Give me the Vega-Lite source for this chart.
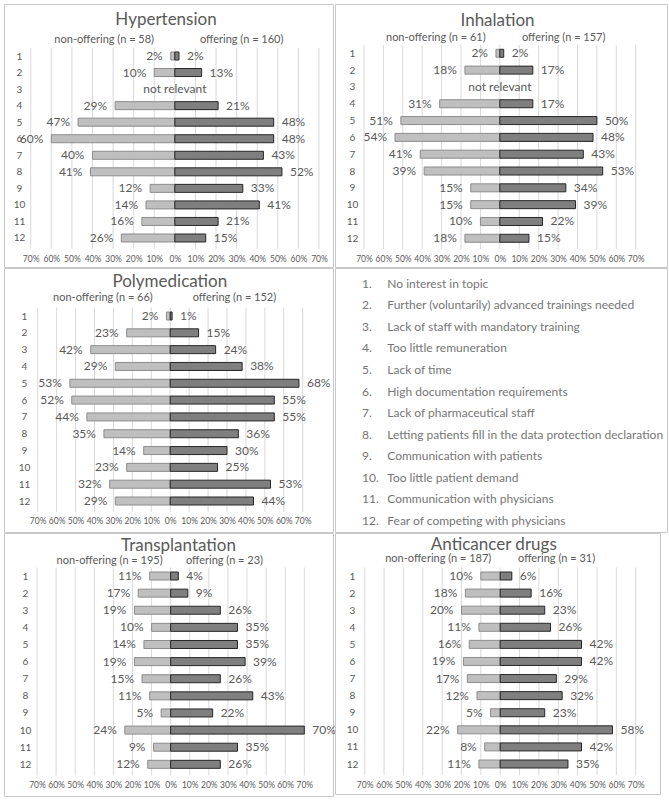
{
  "$schema": "https://vega.github.io/schema/vega-lite/v6.json",
  "padding": {"left": 3, "top": 3, "right": 2, "bottom": 2},
  "background": "white",
  "config": {
    "font": "Lato",
    "view": {"stroke": "#c8c8c8"},
    "text": {"font": "Lato", "baseline": "middle", "color": "#595959", "fontSize": 12},
    "axis": {"labelFont": "Lato", "labelOverlap": false, "labelFlush": false, "labelBound": false}
  },
  "datasets": {
    "grid": [{"share": -70}, {"share": -60}, {"share": -50}, {"share": -40}, {"share": -30}, {"share": -20}, {"share": -10}, {"share": 0}, {"share": 10}, {"share": 20}, {"share": 30}, {"share": 40}, {"share": 50}, {"share": 60}, {"share": 70}],
    "heads": [
      {"panel": "Hypertension", "part": "title", "label": "Hypertension"},
      {"panel": "Hypertension", "part": "non-offering", "label": "non-offering (n = 58)"},
      {"panel": "Hypertension", "part": "offering", "label": "offering (n = 160)"},
      {"panel": "Inhalation", "part": "title", "label": "Inhalation"},
      {"panel": "Inhalation", "part": "non-offering", "label": "non-offering (n = 61)"},
      {"panel": "Inhalation", "part": "offering", "label": "offering (n = 157)"},
      {"panel": "Polymedication", "part": "title", "label": "Polymedication"},
      {"panel": "Polymedication", "part": "non-offering", "label": "non-offering (n = 66)"},
      {"panel": "Polymedication", "part": "offering", "label": "offering (n = 152)"},
      {"panel": "Transplantation", "part": "title", "label": "Transplantation"},
      {"panel": "Transplantation", "part": "non-offering", "label": "non-offering (n = 195)"},
      {"panel": "Transplantation", "part": "offering", "label": "offering (n = 23)"},
      {"panel": "Anticancer drugs", "part": "title", "label": "Anticancer drugs"},
      {"panel": "Anticancer drugs", "part": "non-offering", "label": "non-offering (n = 187)"},
      {"panel": "Anticancer drugs", "part": "offering", "label": "offering (n = 31)"}
    ],
    "notes": [
      {"panel": "Hypertension", "item": 3, "note": "not relevant"},
      {"panel": "Inhalation", "item": 3, "note": "not relevant"}
    ],
    "reasons": [
      {"item": 1, "label": "No interest in topic"},
      {"item": 2, "label": "Further (voluntarily) advanced trainings needed"},
      {"item": 3, "label": "Lack of staff with mandatory training"},
      {"item": 4, "label": "Too little remuneration"},
      {"item": 5, "label": "Lack of time"},
      {"item": 6, "label": "High documentation requirements"},
      {"item": 7, "label": "Lack of pharmaceutical staff"},
      {"item": 8, "label": "Letting patients fill in the data protection declaration"},
      {"item": 9, "label": "Communication with patients"},
      {"item": 10, "label": "Too little patient demand"},
      {"item": 11, "label": "Communication with physicians"},
      {"item": 12, "label": "Fear of competing with physicians"}
    ],
    "bars": [
      {"panel": "Hypertension", "item": 1, "group": "non-offering", "share": -2},
      {"panel": "Hypertension", "item": 2, "group": "non-offering", "share": -10},
      {"panel": "Hypertension", "item": 4, "group": "non-offering", "share": -29},
      {"panel": "Hypertension", "item": 5, "group": "non-offering", "share": -47},
      {"panel": "Hypertension", "item": 6, "group": "non-offering", "share": -60},
      {"panel": "Hypertension", "item": 7, "group": "non-offering", "share": -40},
      {"panel": "Hypertension", "item": 8, "group": "non-offering", "share": -41},
      {"panel": "Hypertension", "item": 9, "group": "non-offering", "share": -12},
      {"panel": "Hypertension", "item": 10, "group": "non-offering", "share": -14},
      {"panel": "Hypertension", "item": 11, "group": "non-offering", "share": -16},
      {"panel": "Hypertension", "item": 12, "group": "non-offering", "share": -26},
      {"panel": "Hypertension", "item": 1, "group": "offering", "share": 2},
      {"panel": "Hypertension", "item": 2, "group": "offering", "share": 13},
      {"panel": "Hypertension", "item": 4, "group": "offering", "share": 21},
      {"panel": "Hypertension", "item": 5, "group": "offering", "share": 48},
      {"panel": "Hypertension", "item": 6, "group": "offering", "share": 48},
      {"panel": "Hypertension", "item": 7, "group": "offering", "share": 43},
      {"panel": "Hypertension", "item": 8, "group": "offering", "share": 52},
      {"panel": "Hypertension", "item": 9, "group": "offering", "share": 33},
      {"panel": "Hypertension", "item": 10, "group": "offering", "share": 41},
      {"panel": "Hypertension", "item": 11, "group": "offering", "share": 21},
      {"panel": "Hypertension", "item": 12, "group": "offering", "share": 15},
      {"panel": "Inhalation", "item": 1, "group": "non-offering", "share": -2},
      {"panel": "Inhalation", "item": 2, "group": "non-offering", "share": -18},
      {"panel": "Inhalation", "item": 4, "group": "non-offering", "share": -31},
      {"panel": "Inhalation", "item": 5, "group": "non-offering", "share": -51},
      {"panel": "Inhalation", "item": 6, "group": "non-offering", "share": -54},
      {"panel": "Inhalation", "item": 7, "group": "non-offering", "share": -41},
      {"panel": "Inhalation", "item": 8, "group": "non-offering", "share": -39},
      {"panel": "Inhalation", "item": 9, "group": "non-offering", "share": -15},
      {"panel": "Inhalation", "item": 10, "group": "non-offering", "share": -15},
      {"panel": "Inhalation", "item": 11, "group": "non-offering", "share": -10},
      {"panel": "Inhalation", "item": 12, "group": "non-offering", "share": -18},
      {"panel": "Inhalation", "item": 1, "group": "offering", "share": 2},
      {"panel": "Inhalation", "item": 2, "group": "offering", "share": 17},
      {"panel": "Inhalation", "item": 4, "group": "offering", "share": 17},
      {"panel": "Inhalation", "item": 5, "group": "offering", "share": 50},
      {"panel": "Inhalation", "item": 6, "group": "offering", "share": 48},
      {"panel": "Inhalation", "item": 7, "group": "offering", "share": 43},
      {"panel": "Inhalation", "item": 8, "group": "offering", "share": 53},
      {"panel": "Inhalation", "item": 9, "group": "offering", "share": 34},
      {"panel": "Inhalation", "item": 10, "group": "offering", "share": 39},
      {"panel": "Inhalation", "item": 11, "group": "offering", "share": 22},
      {"panel": "Inhalation", "item": 12, "group": "offering", "share": 15},
      {"panel": "Polymedication", "item": 1, "group": "non-offering", "share": -2},
      {"panel": "Polymedication", "item": 2, "group": "non-offering", "share": -23},
      {"panel": "Polymedication", "item": 3, "group": "non-offering", "share": -42},
      {"panel": "Polymedication", "item": 4, "group": "non-offering", "share": -29},
      {"panel": "Polymedication", "item": 5, "group": "non-offering", "share": -53},
      {"panel": "Polymedication", "item": 6, "group": "non-offering", "share": -52},
      {"panel": "Polymedication", "item": 7, "group": "non-offering", "share": -44},
      {"panel": "Polymedication", "item": 8, "group": "non-offering", "share": -35},
      {"panel": "Polymedication", "item": 9, "group": "non-offering", "share": -14},
      {"panel": "Polymedication", "item": 10, "group": "non-offering", "share": -23},
      {"panel": "Polymedication", "item": 11, "group": "non-offering", "share": -32},
      {"panel": "Polymedication", "item": 12, "group": "non-offering", "share": -29},
      {"panel": "Polymedication", "item": 1, "group": "offering", "share": 1},
      {"panel": "Polymedication", "item": 2, "group": "offering", "share": 15},
      {"panel": "Polymedication", "item": 3, "group": "offering", "share": 24},
      {"panel": "Polymedication", "item": 4, "group": "offering", "share": 38},
      {"panel": "Polymedication", "item": 5, "group": "offering", "share": 68},
      {"panel": "Polymedication", "item": 6, "group": "offering", "share": 55},
      {"panel": "Polymedication", "item": 7, "group": "offering", "share": 55},
      {"panel": "Polymedication", "item": 8, "group": "offering", "share": 36},
      {"panel": "Polymedication", "item": 9, "group": "offering", "share": 30},
      {"panel": "Polymedication", "item": 10, "group": "offering", "share": 25},
      {"panel": "Polymedication", "item": 11, "group": "offering", "share": 53},
      {"panel": "Polymedication", "item": 12, "group": "offering", "share": 44},
      {"panel": "Transplantation", "item": 1, "group": "non-offering", "share": -11},
      {"panel": "Transplantation", "item": 2, "group": "non-offering", "share": -17},
      {"panel": "Transplantation", "item": 3, "group": "non-offering", "share": -19},
      {"panel": "Transplantation", "item": 4, "group": "non-offering", "share": -10},
      {"panel": "Transplantation", "item": 5, "group": "non-offering", "share": -14},
      {"panel": "Transplantation", "item": 6, "group": "non-offering", "share": -19},
      {"panel": "Transplantation", "item": 7, "group": "non-offering", "share": -15},
      {"panel": "Transplantation", "item": 8, "group": "non-offering", "share": -11},
      {"panel": "Transplantation", "item": 9, "group": "non-offering", "share": -5},
      {"panel": "Transplantation", "item": 10, "group": "non-offering", "share": -24},
      {"panel": "Transplantation", "item": 11, "group": "non-offering", "share": -9},
      {"panel": "Transplantation", "item": 12, "group": "non-offering", "share": -12},
      {"panel": "Transplantation", "item": 1, "group": "offering", "share": 4},
      {"panel": "Transplantation", "item": 2, "group": "offering", "share": 9},
      {"panel": "Transplantation", "item": 3, "group": "offering", "share": 26},
      {"panel": "Transplantation", "item": 4, "group": "offering", "share": 35},
      {"panel": "Transplantation", "item": 5, "group": "offering", "share": 35},
      {"panel": "Transplantation", "item": 6, "group": "offering", "share": 39},
      {"panel": "Transplantation", "item": 7, "group": "offering", "share": 26},
      {"panel": "Transplantation", "item": 8, "group": "offering", "share": 43},
      {"panel": "Transplantation", "item": 9, "group": "offering", "share": 22},
      {"panel": "Transplantation", "item": 10, "group": "offering", "share": 70},
      {"panel": "Transplantation", "item": 11, "group": "offering", "share": 35},
      {"panel": "Transplantation", "item": 12, "group": "offering", "share": 26},
      {"panel": "Anticancer drugs", "item": 1, "group": "non-offering", "share": -10},
      {"panel": "Anticancer drugs", "item": 2, "group": "non-offering", "share": -18},
      {"panel": "Anticancer drugs", "item": 3, "group": "non-offering", "share": -20},
      {"panel": "Anticancer drugs", "item": 4, "group": "non-offering", "share": -11},
      {"panel": "Anticancer drugs", "item": 5, "group": "non-offering", "share": -16},
      {"panel": "Anticancer drugs", "item": 6, "group": "non-offering", "share": -19},
      {"panel": "Anticancer drugs", "item": 7, "group": "non-offering", "share": -17},
      {"panel": "Anticancer drugs", "item": 8, "group": "non-offering", "share": -12},
      {"panel": "Anticancer drugs", "item": 9, "group": "non-offering", "share": -5},
      {"panel": "Anticancer drugs", "item": 10, "group": "non-offering", "share": -22},
      {"panel": "Anticancer drugs", "item": 11, "group": "non-offering", "share": -8},
      {"panel": "Anticancer drugs", "item": 12, "group": "non-offering", "share": -11},
      {"panel": "Anticancer drugs", "item": 1, "group": "offering", "share": 6},
      {"panel": "Anticancer drugs", "item": 2, "group": "offering", "share": 16},
      {"panel": "Anticancer drugs", "item": 3, "group": "offering", "share": 23},
      {"panel": "Anticancer drugs", "item": 4, "group": "offering", "share": 26},
      {"panel": "Anticancer drugs", "item": 5, "group": "offering", "share": 42},
      {"panel": "Anticancer drugs", "item": 6, "group": "offering", "share": 42},
      {"panel": "Anticancer drugs", "item": 7, "group": "offering", "share": 29},
      {"panel": "Anticancer drugs", "item": 8, "group": "offering", "share": 32},
      {"panel": "Anticancer drugs", "item": 9, "group": "offering", "share": 23},
      {"panel": "Anticancer drugs", "item": 10, "group": "offering", "share": 58},
      {"panel": "Anticancer drugs", "item": 11, "group": "offering", "share": 42},
      {"panel": "Anticancer drugs", "item": 12, "group": "offering", "share": 35}
    ]
  },
  "columns": 2,
  "spacing": {"row": 1, "column": 2},
  "bounds": "flush",
  "concat": [
    {
      "width": 329, "height": 263,
      "resolve": {"axis": {"x": "independent", "y": "independent"}},
      "layer": [
        {"data": {"name": "grid"}, "mark": {"type": "rule", "color": "#d9d9d9", "strokeWidth": 1},
          "encoding": {
            "x": {"field": "share", "type": "quantitative", "scale": {"domain": [-82.97, 76.8], "nice": false, "zero": false, "padding": 0}, "axis": null},
            "y": {"datum": 0.5, "type": "quantitative", "scale": {"domain": [-2.143, 13.753], "reverse": true, "nice": false, "zero": false, "padding": 0}, "axis": null},
            "y2": {"datum": 12.65}}},
        {"data": {"name": "bars"}, "transform": [{"filter": "datum.panel == 'Hypertension'"}], "mark": {"type": "bar", "orient": "horizontal", "size": 8, "strokeWidth": 1},
          "encoding": {
            "x": {"field": "share", "type": "quantitative", "scale": {"domain": [-82.97, 76.8], "nice": false, "zero": false, "padding": 0},
              "axis": {"orient": "bottom", "title": null, "values": [-70, -60, -50, -40, -30, -20, -10, 0, 10, 20, 30, 40, 50, 60, 70], "labelExpr": "abs(datum.value) + '%'", "grid": false, "domain": false, "ticks": false, "tickSize": 0, "labelPadding": 0, "offset": -9, "labelBaseline": "middle", "labelFontSize": 8.5, "labelColor": "#595959", "labelFlush": false, "labelOverlap": false}},
            "y": {"field": "item", "type": "quantitative", "scale": {"domain": [-2.143, 13.753], "reverse": true, "nice": false, "zero": false, "padding": 0},
              "axis": {"orient": "left", "title": null, "values": [1, 2, 3, 4, 5, 6, 7, 8, 9, 10, 11, 12], "grid": false, "domain": false, "ticks": false, "tickSize": 0, "labelPadding": 0, "offset": -15, "labelAlign": "center", "labelFontSize": 10, "labelColor": "#595959", "labelFlush": false, "labelOverlap": false}},
            "fill": {"field": "group", "type": "nominal", "scale": {"domain": ["non-offering", "offering"], "range": ["#bfbfbf", "#7f7f7f"]}, "legend": null},
            "stroke": {"field": "group", "type": "nominal", "scale": {"domain": ["non-offering", "offering"], "range": ["#8c8c8c", "#262626"]}, "legend": null}}},
        {"data": {"name": "bars"}, "transform": [{"filter": "datum.panel == 'Hypertension' && datum.group == 'non-offering'"}], "mark": {"type": "text", "align": "right", "dx": -8, "text": {"expr": "abs(datum.share) + '%'"}},
          "encoding": {"x": {"field": "share", "type": "quantitative", "axis": null}, "y": {"field": "item", "type": "quantitative", "axis": null}}},
        {"data": {"name": "bars"}, "transform": [{"filter": "datum.panel == 'Hypertension' && datum.group == 'offering'"}], "mark": {"type": "text", "align": "left", "dx": 8, "text": {"expr": "abs(datum.share) + '%'"}},
          "encoding": {"x": {"field": "share", "type": "quantitative", "axis": null}, "y": {"field": "item", "type": "quantitative", "axis": null}}},
        {"data": {"name": "notes"}, "transform": [{"filter": "datum.panel == 'Hypertension'"}], "mark": {"type": "text", "align": "center"}, "encoding": {"x": {"datum": 0, "axis": null}, "y": {"field": "item", "type": "quantitative", "axis": null}, "text": {"field": "note"}}},
        {"data": {"name": "heads"}, "transform": [{"filter": "datum.panel == 'Hypertension' && datum.part == 'title'"}], "mark": {"type": "text", "align": "center", "fontSize": 17}, "encoding": {"x": {"datum": -4.3, "axis": null}, "y": {"datum": -1.176, "axis": null}, "text": {"field": "label"}}},
        {"data": {"name": "heads"}, "transform": [{"filter": "datum.panel == 'Hypertension' && datum.part == 'non-offering'"}], "mark": {"type": "text", "align": "right", "fontSize": 11}, "encoding": {"x": {"datum": -10.1, "axis": null}, "y": {"datum": 0.033, "axis": null}, "text": {"field": "label"}}},
        {"data": {"name": "heads"}, "transform": [{"filter": "datum.panel == 'Hypertension' && datum.part == 'offering'"}], "mark": {"type": "text", "align": "left", "fontSize": 11}, "encoding": {"x": {"datum": 12.2, "axis": null}, "y": {"datum": 0.033, "axis": null}, "text": {"field": "label"}}}
      ]
    },
    {
      "width": 332, "height": 263,
      "resolve": {"axis": {"x": "independent", "y": "independent"}},
      "layer": [
        {"data": {"name": "grid"}, "mark": {"type": "rule", "color": "#d9d9d9", "strokeWidth": 1},
          "encoding": {
            "x": {"field": "share", "type": "quantitative", "scale": {"domain": [-84.94, 86.13], "nice": false, "zero": false, "padding": 0}, "axis": null},
            "y": {"datum": 0.5, "type": "quantitative", "scale": {"domain": [-1.931, 13.707], "reverse": true, "nice": false, "zero": false, "padding": 0}, "axis": null},
            "y2": {"datum": 12.65}}},
        {"data": {"name": "bars"}, "transform": [{"filter": "datum.panel == 'Inhalation'"}], "mark": {"type": "bar", "orient": "horizontal", "size": 8, "strokeWidth": 1},
          "encoding": {
            "x": {"field": "share", "type": "quantitative", "scale": {"domain": [-84.94, 86.13], "nice": false, "zero": false, "padding": 0},
              "axis": {"orient": "bottom", "title": null, "values": [-70, -60, -50, -40, -30, -20, -10, 0, 10, 20, 30, 40, 50, 60, 70], "labelExpr": "abs(datum.value) + '%'", "grid": false, "domain": false, "ticks": false, "tickSize": 0, "labelPadding": 0, "offset": -9, "labelBaseline": "middle", "labelFontSize": 8.5, "labelColor": "#595959", "labelFlush": false, "labelOverlap": false}},
            "y": {"field": "item", "type": "quantitative", "scale": {"domain": [-1.931, 13.707], "reverse": true, "nice": false, "zero": false, "padding": 0},
              "axis": {"orient": "left", "title": null, "values": [1, 2, 3, 4, 5, 6, 7, 8, 9, 10, 11, 12], "grid": false, "domain": false, "ticks": false, "tickSize": 0, "labelPadding": 0, "offset": -17, "labelAlign": "center", "labelFontSize": 10, "labelColor": "#595959", "labelFlush": false, "labelOverlap": false}},
            "fill": {"field": "group", "type": "nominal", "scale": {"domain": ["non-offering", "offering"], "range": ["#bfbfbf", "#7f7f7f"]}, "legend": null},
            "stroke": {"field": "group", "type": "nominal", "scale": {"domain": ["non-offering", "offering"], "range": ["#8c8c8c", "#262626"]}, "legend": null}}},
        {"data": {"name": "bars"}, "transform": [{"filter": "datum.panel == 'Inhalation' && datum.group == 'non-offering'"}], "mark": {"type": "text", "align": "right", "dx": -8, "text": {"expr": "abs(datum.share) + '%'"}},
          "encoding": {"x": {"field": "share", "type": "quantitative", "axis": null}, "y": {"field": "item", "type": "quantitative", "axis": null}}},
        {"data": {"name": "bars"}, "transform": [{"filter": "datum.panel == 'Inhalation' && datum.group == 'offering'"}], "mark": {"type": "text", "align": "left", "dx": 8, "text": {"expr": "abs(datum.share) + '%'"}},
          "encoding": {"x": {"field": "share", "type": "quantitative", "axis": null}, "y": {"field": "item", "type": "quantitative", "axis": null}}},
        {"data": {"name": "notes"}, "transform": [{"filter": "datum.panel == 'Inhalation'"}], "mark": {"type": "text", "align": "center"}, "encoding": {"x": {"datum": 0, "axis": null}, "y": {"field": "item", "type": "quantitative", "axis": null}, "text": {"field": "note"}}},
        {"data": {"name": "heads"}, "transform": [{"filter": "datum.panel == 'Inhalation' && datum.part == 'title'"}], "mark": {"type": "text", "align": "center", "fontSize": 17}, "encoding": {"x": {"datum": -1.2, "axis": null}, "y": {"datum": -0.92, "axis": null}, "text": {"field": "label"}}},
        {"data": {"name": "heads"}, "transform": [{"filter": "datum.panel == 'Inhalation' && datum.part == 'non-offering'"}], "mark": {"type": "text", "align": "right", "fontSize": 11}, "encoding": {"x": {"datum": -7.3, "axis": null}, "y": {"datum": 0.072, "axis": null}, "text": {"field": "label"}}},
        {"data": {"name": "heads"}, "transform": [{"filter": "datum.panel == 'Inhalation' && datum.part == 'offering'"}], "mark": {"type": "text", "align": "left", "fontSize": 11}, "encoding": {"x": {"datum": 11.4, "axis": null}, "y": {"datum": 0.072, "axis": null}, "text": {"field": "label"}}}
      ]
    },
    {
      "width": 329, "height": 264,
      "resolve": {"axis": {"x": "independent", "y": "independent"}},
      "layer": [
        {"data": {"name": "grid"}, "mark": {"type": "rule", "color": "#d9d9d9", "strokeWidth": 1},
          "encoding": {
            "x": {"field": "share", "type": "quantitative", "scale": {"domain": [-87.8, 86.0], "nice": false, "zero": false, "padding": 0}, "axis": null},
            "y": {"datum": 0.5, "type": "quantitative", "scale": {"domain": [-1.854, 13.843], "reverse": true, "nice": false, "zero": false, "padding": 0}, "axis": null},
            "y2": {"datum": 12.65}}},
        {"data": {"name": "bars"}, "transform": [{"filter": "datum.panel == 'Polymedication'"}], "mark": {"type": "bar", "orient": "horizontal", "size": 8, "strokeWidth": 1},
          "encoding": {
            "x": {"field": "share", "type": "quantitative", "scale": {"domain": [-87.8, 86.0], "nice": false, "zero": false, "padding": 0},
              "axis": {"orient": "bottom", "title": null, "values": [-70, -60, -50, -40, -30, -20, -10, 0, 10, 20, 30, 40, 50, 60, 70], "labelExpr": "abs(datum.value) + '%'", "grid": false, "domain": false, "ticks": false, "tickSize": 0, "labelPadding": 0, "offset": -12, "labelBaseline": "middle", "labelFontSize": 8.5, "labelColor": "#595959", "labelFlush": false, "labelOverlap": false}},
            "y": {"field": "item", "type": "quantitative", "scale": {"domain": [-1.854, 13.843], "reverse": true, "nice": false, "zero": false, "padding": 0},
              "axis": {"orient": "left", "title": null, "values": [1, 2, 3, 4, 5, 6, 7, 8, 9, 10, 11, 12], "grid": false, "domain": false, "ticks": false, "tickSize": 0, "labelPadding": 0, "offset": -20, "labelAlign": "center", "labelFontSize": 10, "labelColor": "#595959", "labelFlush": false, "labelOverlap": false}},
            "fill": {"field": "group", "type": "nominal", "scale": {"domain": ["non-offering", "offering"], "range": ["#bfbfbf", "#7f7f7f"]}, "legend": null},
            "stroke": {"field": "group", "type": "nominal", "scale": {"domain": ["non-offering", "offering"], "range": ["#8c8c8c", "#262626"]}, "legend": null}}},
        {"data": {"name": "bars"}, "transform": [{"filter": "datum.panel == 'Polymedication' && datum.group == 'non-offering'"}], "mark": {"type": "text", "align": "right", "dx": -8, "text": {"expr": "abs(datum.share) + '%'"}},
          "encoding": {"x": {"field": "share", "type": "quantitative", "axis": null}, "y": {"field": "item", "type": "quantitative", "axis": null}}},
        {"data": {"name": "bars"}, "transform": [{"filter": "datum.panel == 'Polymedication' && datum.group == 'offering'"}], "mark": {"type": "text", "align": "left", "dx": 8, "text": {"expr": "abs(datum.share) + '%'"}},
          "encoding": {"x": {"field": "share", "type": "quantitative", "axis": null}, "y": {"field": "item", "type": "quantitative", "axis": null}}},
        {"data": {"name": "heads"}, "transform": [{"filter": "datum.panel == 'Polymedication' && datum.part == 'title'"}], "mark": {"type": "text", "align": "center", "fontSize": 17}, "encoding": {"x": {"datum": -0.2, "axis": null}, "y": {"datum": -1.04, "axis": null}, "text": {"field": "label"}}},
        {"data": {"name": "heads"}, "transform": [{"filter": "datum.panel == 'Polymedication' && datum.part == 'non-offering'"}], "mark": {"type": "text", "align": "right", "fontSize": 11}, "encoding": {"x": {"datum": -9.2, "axis": null}, "y": {"datum": -0.088, "axis": null}, "text": {"field": "label"}}},
        {"data": {"name": "heads"}, "transform": [{"filter": "datum.panel == 'Polymedication' && datum.part == 'offering'"}], "mark": {"type": "text", "align": "left", "fontSize": 11}, "encoding": {"x": {"datum": 11.9, "axis": null}, "y": {"datum": -0.088, "axis": null}, "text": {"field": "label"}}}
      ]
    },
    {
      "width": 332, "height": 264,
      "data": {"name": "reasons"},
      "layer": [
        {"mark": {"type": "text", "align": "left", "fontSize": 12, "color": "#767676", "text": {"expr": "datum.item + '.'"}},
          "encoding": {"x": {"datum": 8.13, "type": "quantitative", "scale": {"domain": [0, 100], "nice": false, "zero": false, "padding": 0}, "axis": null},
            "y": {"field": "item", "type": "quantitative", "scale": {"domain": [0.272, 12.51], "reverse": true, "nice": false, "zero": false, "padding": 0}, "axis": null}}},
        {"mark": {"type": "text", "align": "left", "fontSize": 12, "color": "#767676"},
          "encoding": {"x": {"datum": 15.75, "axis": null}, "y": {"field": "item", "type": "quantitative", "axis": null}, "text": {"field": "label"}}}
      ]
    },
    {
      "width": 329, "height": 263,
      "resolve": {"axis": {"x": "independent", "y": "independent"}},
      "layer": [
        {"data": {"name": "grid"}, "mark": {"type": "rule", "color": "#d9d9d9", "strokeWidth": 1},
          "encoding": {
            "x": {"field": "share", "type": "quantitative", "scale": {"domain": [-87.29, 85.03], "nice": false, "zero": false, "padding": 0}, "axis": null},
            "y": {"datum": 0.5, "type": "quantitative", "scale": {"domain": [-1.512, 13.85], "reverse": true, "nice": false, "zero": false, "padding": 0}, "axis": null},
            "y2": {"datum": 12.65}}},
        {"data": {"name": "bars"}, "transform": [{"filter": "datum.panel == 'Transplantation'"}], "mark": {"type": "bar", "orient": "horizontal", "size": 8, "strokeWidth": 1},
          "encoding": {
            "x": {"field": "share", "type": "quantitative", "scale": {"domain": [-87.29, 85.03], "nice": false, "zero": false, "padding": 0},
              "axis": {"orient": "bottom", "title": null, "values": [-70, -60, -50, -40, -30, -20, -10, 0, 10, 20, 30, 40, 50, 60, 70], "labelExpr": "abs(datum.value) + '%'", "grid": false, "domain": false, "ticks": false, "tickSize": 0, "labelPadding": 0, "offset": -12, "labelBaseline": "middle", "labelFontSize": 8.5, "labelColor": "#595959", "labelFlush": false, "labelOverlap": false}},
            "y": {"field": "item", "type": "quantitative", "scale": {"domain": [-1.512, 13.85], "reverse": true, "nice": false, "zero": false, "padding": 0},
              "axis": {"orient": "left", "title": null, "values": [1, 2, 3, 4, 5, 6, 7, 8, 9, 10, 11, 12], "grid": false, "domain": false, "ticks": false, "tickSize": 0, "labelPadding": 0, "offset": -21, "labelAlign": "center", "labelFontSize": 10, "labelColor": "#595959", "labelFlush": false, "labelOverlap": false}},
            "fill": {"field": "group", "type": "nominal", "scale": {"domain": ["non-offering", "offering"], "range": ["#bfbfbf", "#7f7f7f"]}, "legend": null},
            "stroke": {"field": "group", "type": "nominal", "scale": {"domain": ["non-offering", "offering"], "range": ["#8c8c8c", "#262626"]}, "legend": null}}},
        {"data": {"name": "bars"}, "transform": [{"filter": "datum.panel == 'Transplantation' && datum.group == 'non-offering'"}], "mark": {"type": "text", "align": "right", "dx": -8, "text": {"expr": "abs(datum.share) + '%'"}},
          "encoding": {"x": {"field": "share", "type": "quantitative", "axis": null}, "y": {"field": "item", "type": "quantitative", "axis": null}}},
        {"data": {"name": "bars"}, "transform": [{"filter": "datum.panel == 'Transplantation' && datum.group == 'offering'"}], "mark": {"type": "text", "align": "left", "dx": 8, "text": {"expr": "abs(datum.share) + '%'"}},
          "encoding": {"x": {"field": "share", "type": "quantitative", "axis": null}, "y": {"field": "item", "type": "quantitative", "axis": null}}},
        {"data": {"name": "heads"}, "transform": [{"filter": "datum.panel == 'Transplantation' && datum.part == 'title'"}], "mark": {"type": "text", "align": "center", "fontSize": 17}, "encoding": {"x": {"datum": 4.1, "axis": null}, "y": {"datum": -0.752, "axis": null}, "text": {"field": "label"}}},
        {"data": {"name": "heads"}, "transform": [{"filter": "datum.panel == 'Transplantation' && datum.part == 'non-offering'"}], "mark": {"type": "text", "align": "right", "fontSize": 11}, "encoding": {"x": {"datum": -4.2, "axis": null}, "y": {"datum": 0.124, "axis": null}, "text": {"field": "label"}}},
        {"data": {"name": "heads"}, "transform": [{"filter": "datum.panel == 'Transplantation' && datum.part == 'offering'"}], "mark": {"type": "text", "align": "left", "fontSize": 11}, "encoding": {"x": {"datum": 8.0, "axis": null}, "y": {"datum": 0.124, "axis": null}, "text": {"field": "label"}}}
      ]
    },
    {
      "width": 325, "height": 261,
      "resolve": {"axis": {"x": "independent", "y": "independent"}},
      "layer": [
        {"data": {"name": "grid"}, "mark": {"type": "rule", "color": "#d9d9d9", "strokeWidth": 1},
          "encoding": {
            "x": {"field": "share", "type": "quantitative", "scale": {"domain": [-85.34, 82.55], "nice": false, "zero": false, "padding": 0}, "axis": null},
            "y": {"datum": 0.5, "type": "quantitative", "scale": {"domain": [-1.516, 13.755], "reverse": true, "nice": false, "zero": false, "padding": 0}, "axis": null},
            "y2": {"datum": 12.65}}},
        {"data": {"name": "bars"}, "transform": [{"filter": "datum.panel == 'Anticancer drugs'"}], "mark": {"type": "bar", "orient": "horizontal", "size": 8, "strokeWidth": 1},
          "encoding": {
            "x": {"field": "share", "type": "quantitative", "scale": {"domain": [-85.34, 82.55], "nice": false, "zero": false, "padding": 0},
              "axis": {"orient": "bottom", "title": null, "values": [-70, -60, -50, -40, -30, -20, -10, 0, 10, 20, 30, 40, 50, 60, 70], "labelExpr": "abs(datum.value) + '%'", "grid": false, "domain": false, "ticks": false, "tickSize": 0, "labelPadding": 0, "offset": -10, "labelBaseline": "middle", "labelFontSize": 8.5, "labelColor": "#595959", "labelFlush": false, "labelOverlap": false}},
            "y": {"field": "item", "type": "quantitative", "scale": {"domain": [-1.516, 13.755], "reverse": true, "nice": false, "zero": false, "padding": 0},
              "axis": {"orient": "left", "title": null, "values": [1, 2, 3, 4, 5, 6, 7, 8, 9, 10, 11, 12], "grid": false, "domain": false, "ticks": false, "tickSize": 0, "labelPadding": 0, "offset": -17, "labelAlign": "center", "labelFontSize": 10, "labelColor": "#595959", "labelFlush": false, "labelOverlap": false}},
            "fill": {"field": "group", "type": "nominal", "scale": {"domain": ["non-offering", "offering"], "range": ["#bfbfbf", "#7f7f7f"]}, "legend": null},
            "stroke": {"field": "group", "type": "nominal", "scale": {"domain": ["non-offering", "offering"], "range": ["#8c8c8c", "#262626"]}, "legend": null}}},
        {"data": {"name": "bars"}, "transform": [{"filter": "datum.panel == 'Anticancer drugs' && datum.group == 'non-offering'"}], "mark": {"type": "text", "align": "right", "dx": -8, "text": {"expr": "abs(datum.share) + '%'"}},
          "encoding": {"x": {"field": "share", "type": "quantitative", "axis": null}, "y": {"field": "item", "type": "quantitative", "axis": null}}},
        {"data": {"name": "bars"}, "transform": [{"filter": "datum.panel == 'Anticancer drugs' && datum.group == 'offering'"}], "mark": {"type": "text", "align": "left", "dx": 8, "text": {"expr": "abs(datum.share) + '%'"}},
          "encoding": {"x": {"field": "share", "type": "quantitative", "axis": null}, "y": {"field": "item", "type": "quantitative", "axis": null}}},
        {"data": {"name": "heads"}, "transform": [{"filter": "datum.panel == 'Anticancer drugs' && datum.part == 'title'"}], "mark": {"type": "text", "align": "center", "fontSize": 17}, "encoding": {"x": {"datum": -3.3, "axis": null}, "y": {"datum": -0.814, "axis": null}, "text": {"field": "label"}}},
        {"data": {"name": "heads"}, "transform": [{"filter": "datum.panel == 'Anticancer drugs' && datum.part == 'non-offering'"}], "mark": {"type": "text", "align": "right", "fontSize": 11}, "encoding": {"x": {"datum": -4.6, "axis": null}, "y": {"datum": 0.005, "axis": null}, "text": {"field": "label"}}},
        {"data": {"name": "heads"}, "transform": [{"filter": "datum.panel == 'Anticancer drugs' && datum.part == 'offering'"}], "mark": {"type": "text", "align": "left", "fontSize": 11}, "encoding": {"x": {"datum": 9.2, "axis": null}, "y": {"datum": 0.005, "axis": null}, "text": {"field": "label"}}}
      ]
    }
  ]
}
